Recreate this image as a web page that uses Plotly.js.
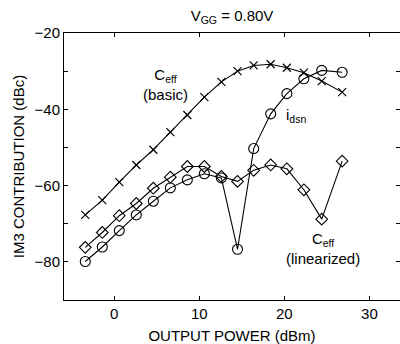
<!DOCTYPE html>
<html>
<head>
<meta charset="utf-8">
<script src="https://cdn.plot.ly/plotly-3.0.1.min.js"></script>
<style>html,body{margin:0;padding:0;background:#fff;}#chart{width:400px;height:344px;}</style>
</head>
<body>
<div id="chart"></div>
<script>
// Output power (dBm) for each measured point
const xPower = [-3.4, -1.4, 0.6, 2.6, 4.6, 6.6, 8.6, 10.6, 12.6, 14.5, 16.4, 18.4, 20.3, 22.3, 24.4, 26.8];
// C_eff (basic) — crosses
const ceffBasic = [-67.7, -63.8, -59.1, -54.6, -50.6, -46.0, -41.5, -36.8, -32.8, -30.0, -28.5, -28.2, -29.1, -30.4, -32.6, -35.5];
// i_dsn — circles
const idsn = [-79.9, -76.1, -71.8, -67.7, -64.1, -60.6, -58.5, -56.9, -58.0, -76.7, -50.3, -41.2, -35.9, -32.0, -29.8, -30.3];
// C_eff (linearized) — diamonds
const ceffLin = [-76.2, -72.3, -67.9, -64.7, -60.7, -57.8, -55.0, -55.0, -57.6, -58.9, -56.0, -54.6, -55.6, -61.1, -68.8, -53.6];

const xTickVals = [0, 10, 20, 30];
const xTickText = ['0', '10', '20', '30'];
const yTickVals = [-80, -60, -40, -20];
const yTickText = ['\u221280', '\u221260', '\u221240', '\u221220'];

const font = 'Liberation Sans, Arial, Helvetica, sans-serif';
const lineStyle = {color: '#000', width: 1.1};

const traces = [
  {x: xPower, y: ceffBasic, mode: 'lines+markers', line: lineStyle,
   marker: {symbol: 'x-thin-open', size: 8, color: '#000', line: {color: '#000', width: 1.2}}, name: 'C_eff (basic)'},
  {x: xPower, y: idsn, mode: 'lines+markers', line: lineStyle,
   marker: {symbol: 'circle-open', size: 10, color: '#000', line: {color: '#000', width: 1.1}}, name: 'i_dsn'},
  {x: xPower, y: ceffLin, mode: 'lines+markers', line: lineStyle,
   marker: {symbol: 'diamond-open', size: 9, color: '#000', line: {color: '#000', width: 1.1}}, name: 'C_eff (linearized)'}
];

const layout = {
  width: 400, height: 344,
  margin: {l: 64, r: 0, t: 33, b: 44},
  paper_bgcolor: '#fff', plot_bgcolor: '#fff',
  showlegend: false,
  font: {family: font, size: 15, color: '#000'},
  title: {text: 'V<sub>GG</sub> = 0.80V', font: {family: font, size: 15, color: '#000'},
          x: 0.58, xref: 'container', xanchor: 'center', y: 0.955, yref: 'container', yanchor: 'middle'},
  xaxis: {
    range: [-5.9, 33.6], showgrid: false, zeroline: false,
    showline: true, linecolor: '#000', linewidth: 1, mirror: 'ticks',
    ticks: 'inside', ticklen: 4, tickcolor: '#000',
    tickvals: xTickVals, ticktext: xTickText,
    tickfont: {family: font, size: 15, color: '#000'},
    title: {text: 'OUTPUT POWER (dBm)', font: {family: font, size: 15, color: '#000'}, standoff: 10}
  },
  yaxis: {
    range: [-90, -20], showgrid: false, zeroline: false,
    showline: true, linecolor: '#000', linewidth: 1, mirror: 'ticks',
    ticks: 'inside', ticklen: 4, tickcolor: '#000',
    tickvals: yTickVals, ticktext: yTickText,
    minor: {dtick: 10, tick0: 0, ticks: 'inside', ticklen: 4, tickcolor: '#000', showgrid: false},
    tickfont: {family: font, size: 15, color: '#000'},
    title: {text: 'IM3 CONTRIBUTION (dBc)', font: {family: font, size: 15, color: '#000'}, standoff: 6}
  },
  annotations: [
    {text: 'C<sub>eff</sub><br>(basic)', x: 6.0, y: -33.6, xref: 'x', yref: 'y', showarrow: false,
     font: {family: font, size: 15, color: '#000'}, align: 'center'},
    {text: 'i<sub>dsn</sub>', x: 21.4, y: -41.5, xref: 'x', yref: 'y', showarrow: false,
     font: {family: font, size: 15, color: '#000'}},
    {text: 'C<sub>eff</sub><br>(linearized)', x: 24.6, y: -76.5, xref: 'x', yref: 'y', showarrow: false,
     font: {family: font, size: 15, color: '#000'}, align: 'center'}
  ]
};

Plotly.newPlot('chart', traces, layout, {staticPlot: true, displayModeBar: false});
</script>
</body>
</html>
